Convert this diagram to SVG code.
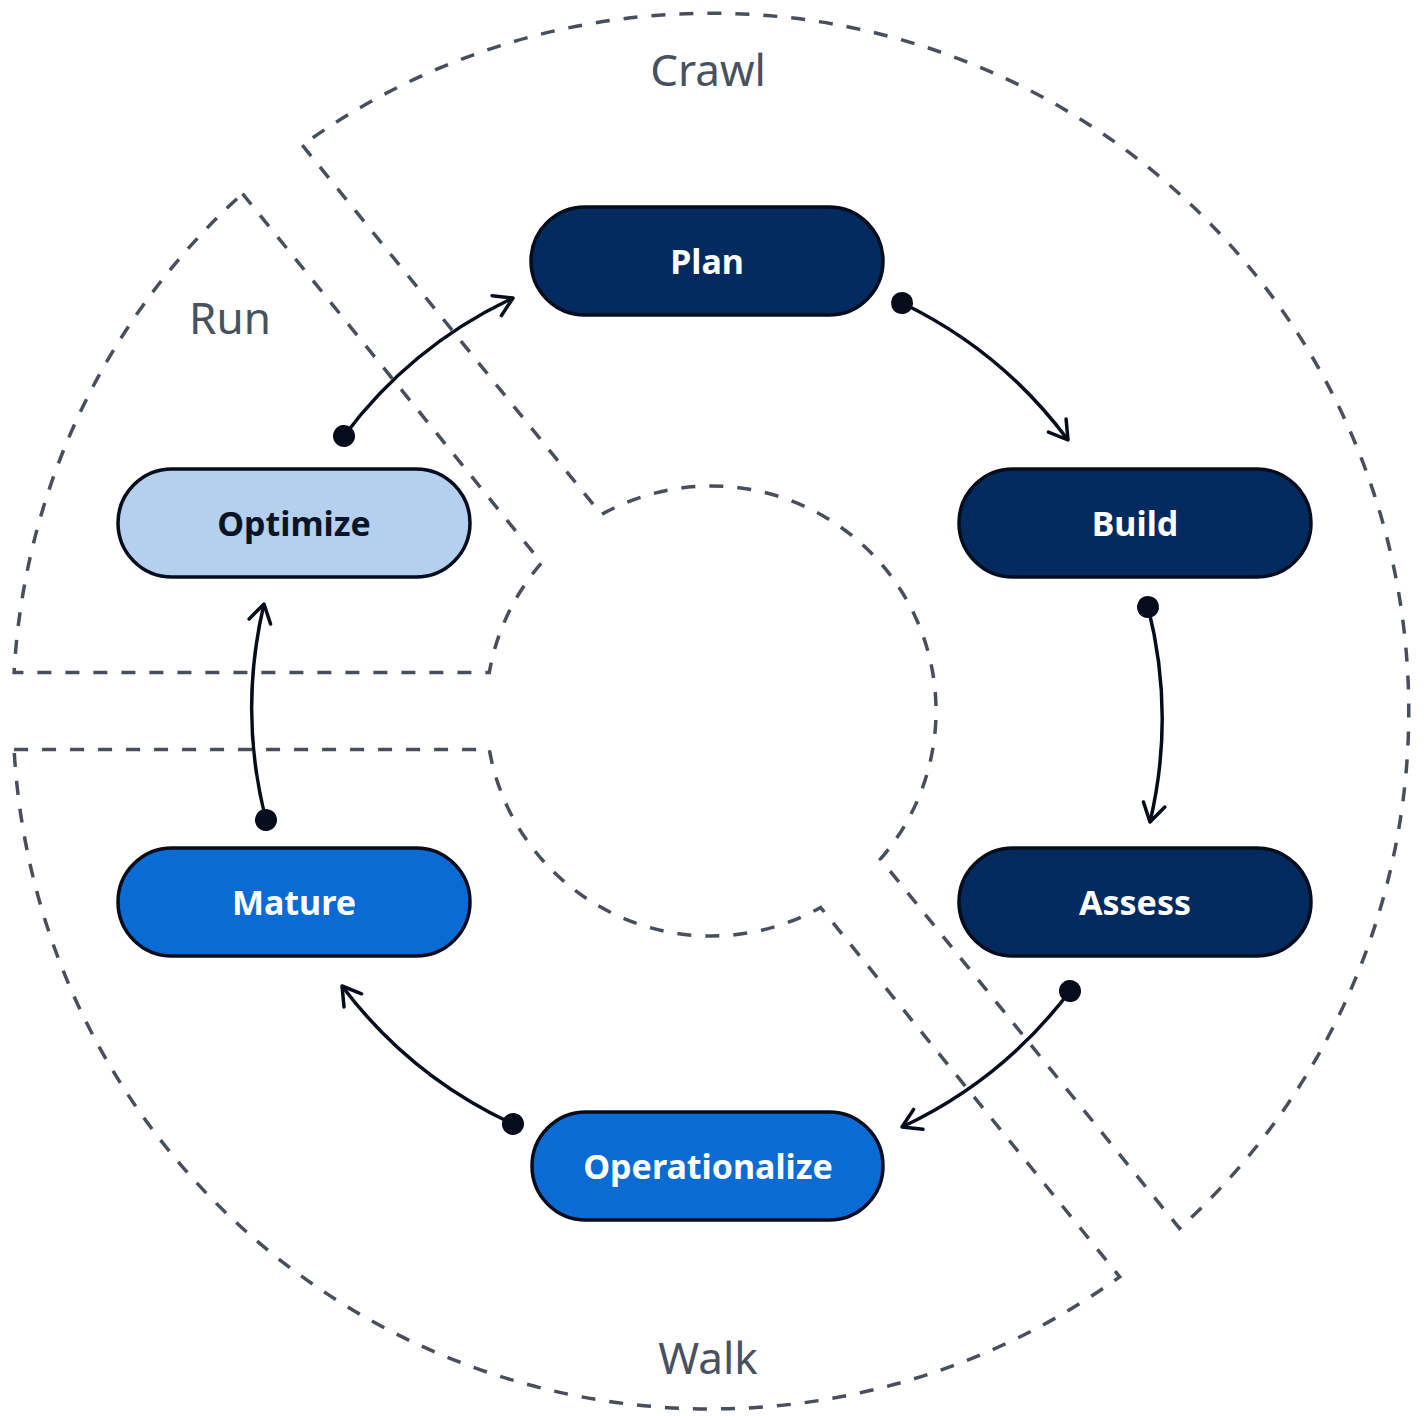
<svg xmlns="http://www.w3.org/2000/svg" width="1426" height="1416" viewBox="0 0 1426 1416">
  <style>
    .sector { fill: none; stroke: #474f5c; stroke-width: 3.5; stroke-dasharray: 14 14; }
    .phase { font-family: "Noto Sans", "Open Sans", sans-serif; font-size: 44px; fill: #475160; text-anchor: middle; }
    .node rect { stroke: #050c1c; stroke-width: 3.5; }
    .dark rect { fill: #012b5e; }
    .mid rect { fill: #0a6bd5; }
    .light rect { fill: #b4d0ee; }
    .node text { font-family: "Noto Sans", "Open Sans", sans-serif; font-weight: bold; font-size: 34px; text-anchor: middle; fill: #ffffff; }
    .light text { fill: #0b1426; }
    .conn { fill: none; stroke: #050c1c; stroke-width: 3.5; marker-start: url(#dot); marker-end: url(#arrow); }
  </style>
  <defs>
    <marker id="arrow" viewBox="-24 -14 28 28" refX="0" refY="0" markerWidth="28" markerHeight="28" markerUnits="userSpaceOnUse" orient="auto">
      <path d="M -18 -11 L 0 0 L -18 11" fill="none" stroke="#050c1c" stroke-width="3.5" stroke-linecap="round" stroke-linejoin="round"/>
    </marker>
    <marker id="dot" viewBox="-12 -12 24 24" refX="0" refY="0" markerWidth="24" markerHeight="24" markerUnits="userSpaceOnUse" orient="auto">
      <circle cx="0" cy="0" r="11" fill="#050c1c"/>
    </marker>
  </defs>
  <rect width="1426" height="1416" fill="#ffffff"/>

  <g id="sectors">
    <path id="sector-crawl" class="sector" d="M 302.3 145.2 L 601.4 514.5 A 225 225 0 0 1 880.4 859.1 L 1179.5 1228.4 A 698 698 0 0 0 302.3 145.2 Z"/>
    <path id="sector-run" class="sector" d="M 242.5 193.6 L 541.6 562.9 A 225 225 0 0 0 489.3 672.5 L 14.1 672.5 A 698 698 0 0 1 242.5 193.6 Z"/>
    <path id="sector-walk" class="sector" d="M 14.1 749.5 L 489.3 749.5 A 225 225 0 0 0 820.6 907.5 L 1119.7 1276.8 A 698 698 0 0 1 14.1 749.5 Z"/>
  </g>

  <g id="phase-labels">
    <text class="phase" x="708" y="86">Crawl</text>
    <text class="phase" x="230" y="334">Run</text>
    <text class="phase" x="708" y="1374">Walk</text>
  </g>

  <g id="connectors">
    <path class="conn" d="M 902 303 A 450 450 0 0 1 1068 440"/>
    <path class="conn" d="M 1148 607 A 450 450 0 0 1 1150 822"/>
    <path class="conn" d="M 1070 991 A 450 450 0 0 1 902 1127"/>
    <path class="conn" d="M 513 1124 A 450 450 0 0 1 342 986"/>
    <path class="conn" d="M 266 820 A 450 450 0 0 1 264 604"/>
    <path class="conn" d="M 344 436 A 450 450 0 0 1 513 298"/>
  </g>

  <g id="node-plan" class="node dark">
    <rect x="531" y="207" width="352" height="108" rx="54"/>
    <text x="707" y="274">Plan</text>
  </g>
  <g id="node-build" class="node dark">
    <rect x="959" y="469" width="352" height="108" rx="54"/>
    <text x="1135" y="536">Build</text>
  </g>
  <g id="node-assess" class="node dark">
    <rect x="959" y="848" width="352" height="108" rx="54"/>
    <text x="1135" y="915">Assess</text>
  </g>
  <g id="node-operationalize" class="node mid">
    <rect x="532" y="1112" width="351" height="108" rx="54"/>
    <text x="708" y="1179">Operationalize</text>
  </g>
  <g id="node-mature" class="node mid">
    <rect x="118" y="848" width="352" height="108" rx="54"/>
    <text x="294" y="915">Mature</text>
  </g>
  <g id="node-optimize" class="node light">
    <rect x="118" y="469" width="352" height="108" rx="54"/>
    <text x="294" y="536">Optimize</text>
  </g>
</svg>
